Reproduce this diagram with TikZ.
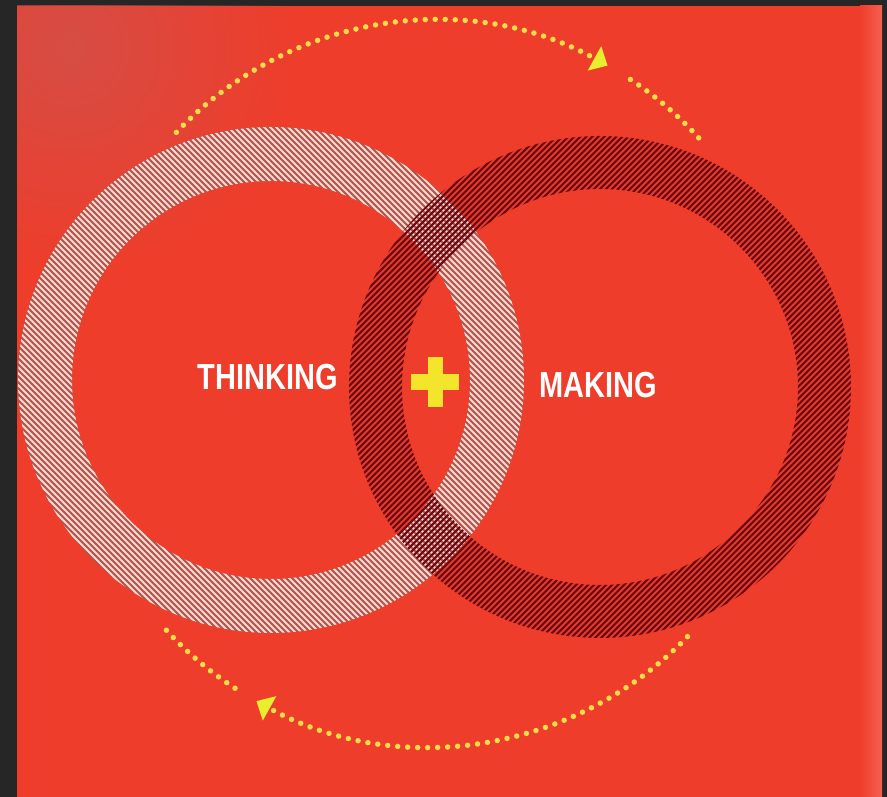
\documentclass[tikz,border=0pt]{standalone}
\usepackage{fontspec}
\newfontfamily\labelfont[FakeStretch=0.8]{Liberation Sans}
\usetikzlibrary{arrows.meta,fadings}
\definecolor{frame}{HTML}{262626}
\definecolor{bgred}{HTML}{EF3D2B}
\definecolor{mutedred}{HTML}{D25049}
\definecolor{edgered}{HTML}{F6604F}
\definecolor{ringbase}{HTML}{BA514B}
\definecolor{ringlight}{HTML}{EDDDD5}
\definecolor{ringdark}{HTML}{6E0C16}
\definecolor{dotyel}{HTML}{F8DC48}
\definecolor{tipyel}{HTML}{E8EE2E}
\definecolor{plusyel}{HTML}{F3E52C}

\tikzfading[name=cornerfade, inner color=transparent!0, outer color=transparent!100]

\tikzset{
  wordlabel/.style={text=white, inner sep=0pt,
    font=\labelfont\bfseries\fontsize{10.3}{12}\selectfont},
  cycledots/.style={dotyel, line width=0.055cm, line cap=round,
    dash pattern=on 0pt off 0.1cm},
  cycletip/.style={-{Triangle[length=0.15cm,width=0.27cm,color=tipyel]}},
}

\begin{document}
\begin{tikzpicture}[x=0.01cm,y=0.01cm]
	\useasboundingbox (0,0) rectangle (887,797);

	% page and paper
	\fill[frame] (0,0) rectangle (887,797);
	\fill[bgred] (17,0) rectangle (882,791);
	\begin{scope}
		\clip (17,0) rectangle (882,791);
		\fill[mutedred, path fading=cornerfade, opacity=0.85] (70,750) circle (230);
	\end{scope}
	\shade[left color=bgred, right color=edgered] (860,0) rectangle (882,791);

	\coordinate (think) at (271,417);
	\coordinate (make) at (600,410);
	\coordinate (looptop) at (435,420);
	\coordinate (loopbot) at (430,409);

	% light ring
	\fill[ringbase, even odd rule] (think) circle (253) (think) circle (199);
	\begin{scope}[even odd rule]
		\clip (think) circle (253) (think) circle (199);
		\foreach \c in {-360,-354,...,360}
			\draw[ringlight, line width=0.021cm, shift={(think)}] (\c-300,300) -- (\c+300,-300);
	\end{scope}

	% dark ring
	\begin{scope}[even odd rule]
		\clip (make) circle (251) (make) circle (198);
		\foreach \c in {-360,-354,...,360}
			\draw[ringdark, line width=0.022cm, shift={(make)}] (\c-300,-300) -- (\c+300,300);
	\end{scope}

	% words and the plus
	\node[wordlabel] (thinking) at (268,420) {THINKING};
	\node[wordlabel] (making) at (598,412) {MAKING};
	\coordinate (plus) at (435,415);
	\fill[plusyel, shift={(plus)}] (-7.5,-25) rectangle (7.5,25);
	\fill[plusyel, shift={(plus)}] (-24,-8) rectangle (24,8);

	% dotted loop
	\draw[cycledots, cycletip] (looptop) ++(136.6:356) arc[start angle=136.6, end angle=61, radius=356];
	\draw[cycledots] (looptop) ++(56.7:356) arc[start angle=56.7, end angle=40.7, radius=356];
	\draw[cycledots, cycletip] (loopbot) ++(-44:358) arc[start angle=-44, end angle=-119, radius=358];
	\draw[cycledots] (loopbot) ++(-123:358) arc[start angle=-123, end angle=-138.4, radius=358];
\end{tikzpicture}
\end{document}
